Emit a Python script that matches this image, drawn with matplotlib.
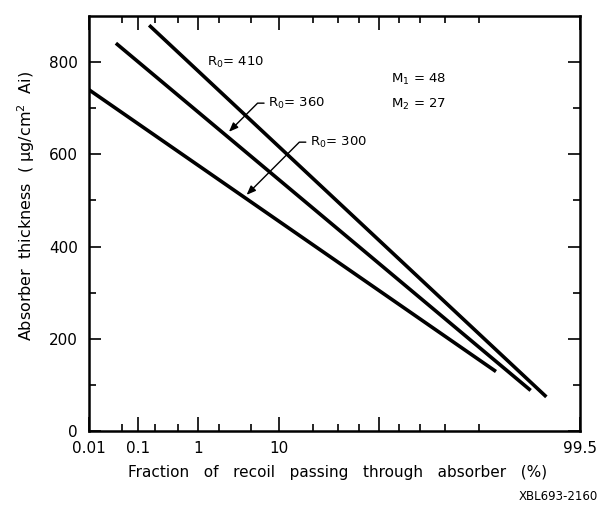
"""Absorber thickness vs fraction of recoils transmitted, on a normal-probability axis."""

from math import erf

import numpy as np
import matplotlib
matplotlib.use("Agg")
import matplotlib.pyplot as plt  # noqa: E402
from matplotlib.ticker import FixedLocator, NullFormatter  # noqa: E402

# curve end points: fraction passing (%) and absorber thickness (ug/cm^2)
R410_X = [0.16, 98.4]
R410_Y = [880, 74]
R360_X = [0.037, 97.4]
R360_Y = [841, 88]
R300_X = [0.01, 93.3]
R300_Y = [740, 129]

X_MAJOR = [0.01, 0.1, 1, 10, 50, 99.5]
X_MAJOR_LABELS = ["0.01", "0.1", "1", "10", "", "99.5"]
X_MINOR = [0.05, 0.2, 0.5, 2, 5, 20, 30, 40, 60, 70, 80, 90]
Y_MAJOR = [0, 200, 400, 600, 800]
Y_MINOR = [100, 300, 500, 700]

_erf = np.vectorize(erf, otypes=[float])


def z_to_pct(z):
    return 50.0 * (1.0 + _erf(np.asarray(z, float) / np.sqrt(2.0)))


# inverse of the normal cdf by bisection, works on arrays
def pct_to_z(p):
    p = np.clip(np.asarray(p, float), 1e-7, 100 - 1e-7)
    lo = np.full(p.shape, -8.0)
    hi = np.full(p.shape, 8.0)
    for _ in range(55):
        mid = 0.5 * (lo + hi)
        below = z_to_pct(mid) < p
        lo = np.where(below, mid, lo)
        hi = np.where(below, hi, mid)
    return 0.5 * (lo + hi)


W, H = 604, 505
fig = plt.figure(figsize=(W / 100, H / 100), dpi=100)
ax = fig.add_axes([89 / W, 1 - 431 / H, 491 / W, 415 / H])
ax.set_xscale("function", functions=(pct_to_z, z_to_pct))
ax.set_xlim(0.01, 99.5)
ax.set_ylim(0, 900)

for xs, ys in ((R410_X, R410_Y), (R360_X, R360_Y), (R300_X, R300_Y)):
    ax.plot(xs, ys, color="black", lw=2.6, solid_capstyle="butt")

ax.xaxis.set_major_locator(FixedLocator(X_MAJOR))
ax.set_xticklabels(X_MAJOR_LABELS)
ax.xaxis.set_minor_locator(FixedLocator(X_MINOR))
ax.xaxis.set_minor_formatter(NullFormatter())
ax.yaxis.set_major_locator(FixedLocator(Y_MAJOR))
ax.yaxis.set_minor_locator(FixedLocator(Y_MINOR))
ax.yaxis.set_minor_formatter(NullFormatter())

ax.tick_params(which="both", direction="in", top=True, right=True,
               width=1.2, labelsize=11)
ax.tick_params(axis="x", which="major", length=10, pad=7)
ax.tick_params(axis="x", which="minor", length=5)
ax.tick_params(axis="y", which="major", length=8.5, pad=8)
ax.tick_params(axis="y", which="minor", length=5)
for s in ax.spines.values():
    s.set_linewidth(1.8)

fs = 9.5
ax.text(0.240, 0.889, "R$_0$= 410", transform=ax.transAxes,
        ha="left", va="center", fontsize=fs)
arrow = dict(arrowstyle="-|>,head_length=0.45,head_width=0.18",
             mutation_scale=12, lw=1.0, color="black", relpos=(0, 0.5),
             shrinkA=1, shrinkB=0,
             connectionstyle="angle,angleA=180,angleB=45,rad=0")
ax.annotate("R$_0$= 360", xy=(0.285, 0.721), xytext=(0.365, 0.790),
            xycoords="axes fraction", textcoords="axes fraction",
            ha="left", va="center", fontsize=fs, arrowprops=arrow)
ax.annotate("R$_0$= 300", xy=(0.321, 0.569), xytext=(0.450, 0.696),
            xycoords="axes fraction", textcoords="axes fraction",
            ha="left", va="center", fontsize=fs, arrowprops=arrow)
ax.text(0.615, 0.846, "M$_1$ = 48", transform=ax.transAxes,
        ha="left", va="center", fontsize=fs)
ax.text(0.615, 0.788, "M$_2$ = 27", transform=ax.transAxes,
        ha="left", va="center", fontsize=fs)

fig.text(26.5 / W, 1 - 206 / H, "Absorber  thickness  ( μg/cm$^2$  Ai)",
         rotation=90, ha="center", va="center", fontsize=11.5)
fig.text(338 / W, 1 - 473 / H,
         "Fraction   of   recoil   passing   through   absorber   (%)",
         ha="center", va="center", fontsize=11)
fig.text(598 / W, 1 - 497 / H, "XBL693-2160", ha="right", va="center",
         fontsize=8.5)

fig.savefig("out.png", dpi=100)
